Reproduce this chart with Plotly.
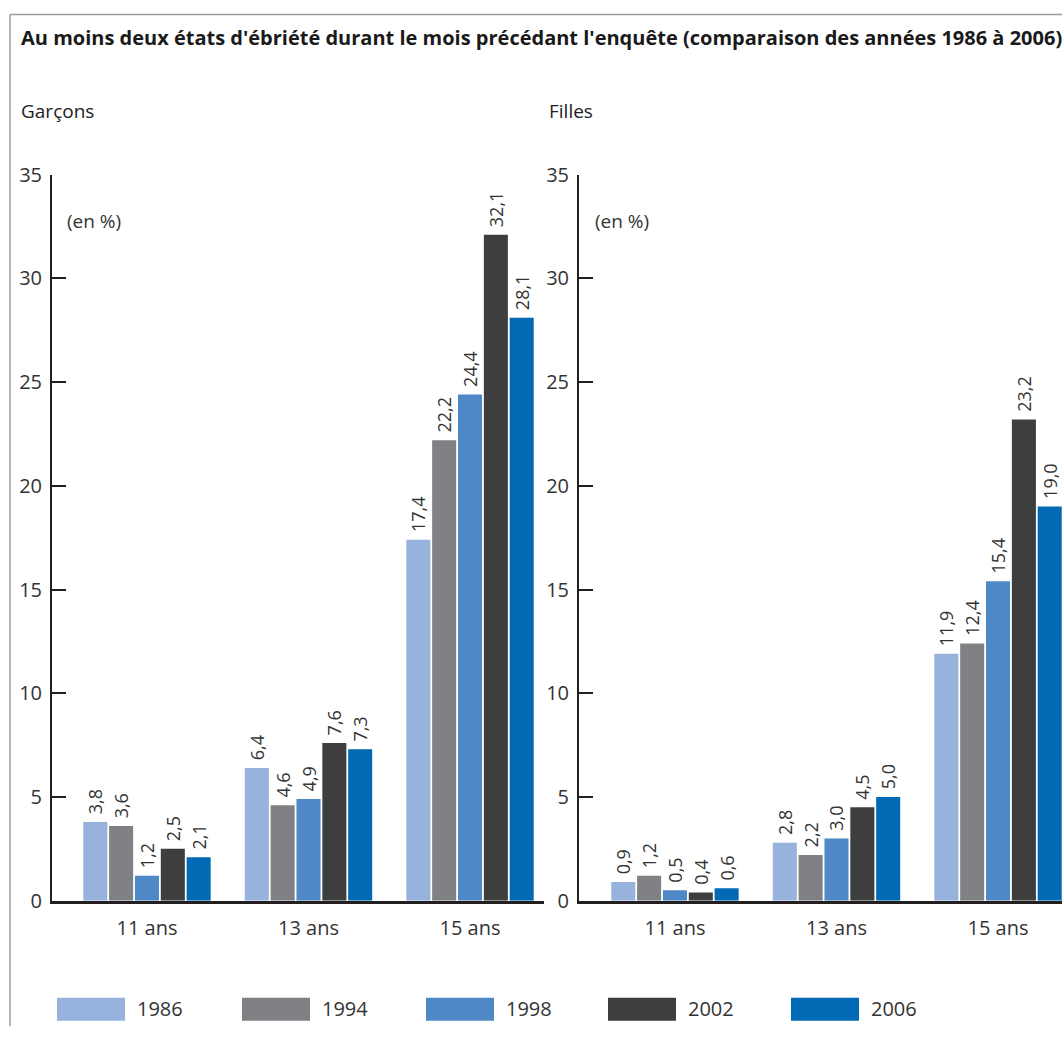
import plotly.graph_objects as go

years = ["1986", "1994", "1998", "2002", "2006"]
colors = ["#97B2DC", "#808184", "#4E88C7", "#3E3E3E", "#006AB5"]
ages = ["11 ans", "13 ans", "15 ans"]
garcons = {
    "1986": [3.8, 6.4, 17.4],
    "1994": [3.6, 4.6, 22.2],
    "1998": [1.2, 4.9, 24.4],
    "2002": [2.5, 7.6, 32.1],
    "2006": [2.1, 7.3, 28.1],
}
filles = {
    "1986": [0.9, 2.8, 11.9],
    "1994": [1.2, 2.2, 12.4],
    "1998": [0.5, 3.0, 15.4],
    "2002": [0.4, 4.5, 23.2],
    "2006": [0.6, 5.0, 19.0],
}
y_ticks = [0, 5, 10, 15, 20, 25, 30, 35]

W, H = 1062, 1039
FONT = "Open Sans"
TXT = "#333333"


def py(y_px):
    """Paper y-fraction for a target pixel row (compensates the capture's vertical offset)."""
    yd = max((y_px - 13.3) / 0.974, 0.6)
    return 1 - yd / H


def fmt(v):
    return "\u00a0" + f"{v:.1f}".replace(".", ",")


fig = go.Figure()
xs = list(range(len(ages)))
for data, xa, ya in [(garcons, "x", "y"), (filles, "x2", "y2")]:
    for yr, col in zip(years, colors):
        vals = data[yr]
        fig.add_trace(go.Bar(
            x=xs, y=vals, name=yr, marker=dict(color=col, line=dict(width=0)),
            text=[fmt(v) for v in vals], textposition="outside", textangle=-90,
            textfont=dict(family=FONT, size=18, color=TXT),
            constraintext="none", cliponaxis=False,
            xaxis=xa, yaxis=ya, showlegend=False, offsetgroup=yr,
        ))

ydom = [py(900), py(174)]
axis_common_y = dict(
    range=[0, 35], tickvals=y_ticks, ticktext=[str(t) for t in y_ticks],
    showgrid=False, zeroline=False, showline=True, linecolor="#231F20", linewidth=2,
    ticks="inside", ticklen=14, tickwidth=2, tickcolor="#231F20",
    tickfont=dict(family=FONT, size=20, color=TXT), ticklabelstandoff=4,
    domain=ydom, fixedrange=True,
)
axis_common_x = dict(
    tickvals=xs, ticktext=ages, showgrid=False, zeroline=False, showline=True,
    linecolor="#231F20", linewidth=2.5, ticks="",
    tickfont=dict(family=FONT, size=20, color=TXT), ticklabelstandoff=8,
    fixedrange=True,
)

fig.update_layout(
    width=W, height=H, margin=dict(l=0, r=0, t=0, b=0),
    paper_bgcolor="white", plot_bgcolor="white",
    barmode="group", bargap=0.2, bargroupgap=0.07,
    xaxis=dict(axis_common_x, domain=[52 / W, 544 / W], range=[-0.588, 2.458], anchor="y"),
    xaxis2=dict(axis_common_x, domain=[579 / W, 1.0], range=[-0.594, 2.396], anchor="y2"),
    yaxis=dict(axis_common_y, anchor="x"),
    yaxis2=dict(axis_common_y, anchor="x2"),
)

shapes = [
    dict(type="line", xref="paper", yref="paper", x0=10 / W, x1=1, y0=py(12), y1=py(12),
         line=dict(color="#9A9A9A", width=1.5)),
    dict(type="line", xref="paper", yref="paper", x0=10 / W, x1=10 / W, y0=0, y1=py(12),
         line=dict(color="#9A9A9A", width=1.5)),
]
annotations = [
    dict(text="<b>Au moins deux états d'ébriété durant le mois précédant l'enquête (comparaison des années 1986 à 2006)</b>",
         x=19 / W, y=py(37), xref="paper", yref="paper", xanchor="left", yanchor="middle",
         showarrow=False, font=dict(family=FONT, size=20, color="#1A1A1A")),
    dict(text="Garçons", x=19 / W, y=py(110), xref="paper", yref="paper", xanchor="left",
         yanchor="middle", showarrow=False, font=dict(family=FONT, size=19, color="#222222")),
    dict(text="Filles", x=547 / W, y=py(110), xref="paper", yref="paper", xanchor="left",
         yanchor="middle", showarrow=False, font=dict(family=FONT, size=19, color="#222222")),
    dict(text="(en %)", x=65 / W, y=py(220), xref="paper", yref="paper", xanchor="left",
         yanchor="middle", showarrow=False, font=dict(family=FONT, size=19, color=TXT)),
    dict(text="(en %)", x=593 / W, y=py(220), xref="paper", yref="paper", xanchor="left",
         yanchor="middle", showarrow=False, font=dict(family=FONT, size=19, color=TXT)),
]
leg_x = [57, 242, 426, 608, 791]
for yr, col, lx in zip(years, colors, leg_x):
    shapes.append(dict(type="rect", xref="paper", yref="paper", x0=lx / W, x1=(lx + 68) / W,
                       y0=py(1020), y1=py(997), fillcolor=col, line=dict(width=0)))
    annotations.append(dict(text=yr, x=(lx + 78) / W, y=py(1008), xref="paper", yref="paper",
                            xanchor="left", yanchor="middle", showarrow=False,
                            font=dict(family=FONT, size=20, color=TXT)))

fig.update_layout(shapes=shapes, annotations=annotations)
post = ("document.documentElement.style.margin='0';document.body.style.margin='0';"
        "document.body.style.padding='0';document.body.style.overflow='hidden';")
fig.write_html("out.html", config={"displayModeBar": False}, post_script=post)
